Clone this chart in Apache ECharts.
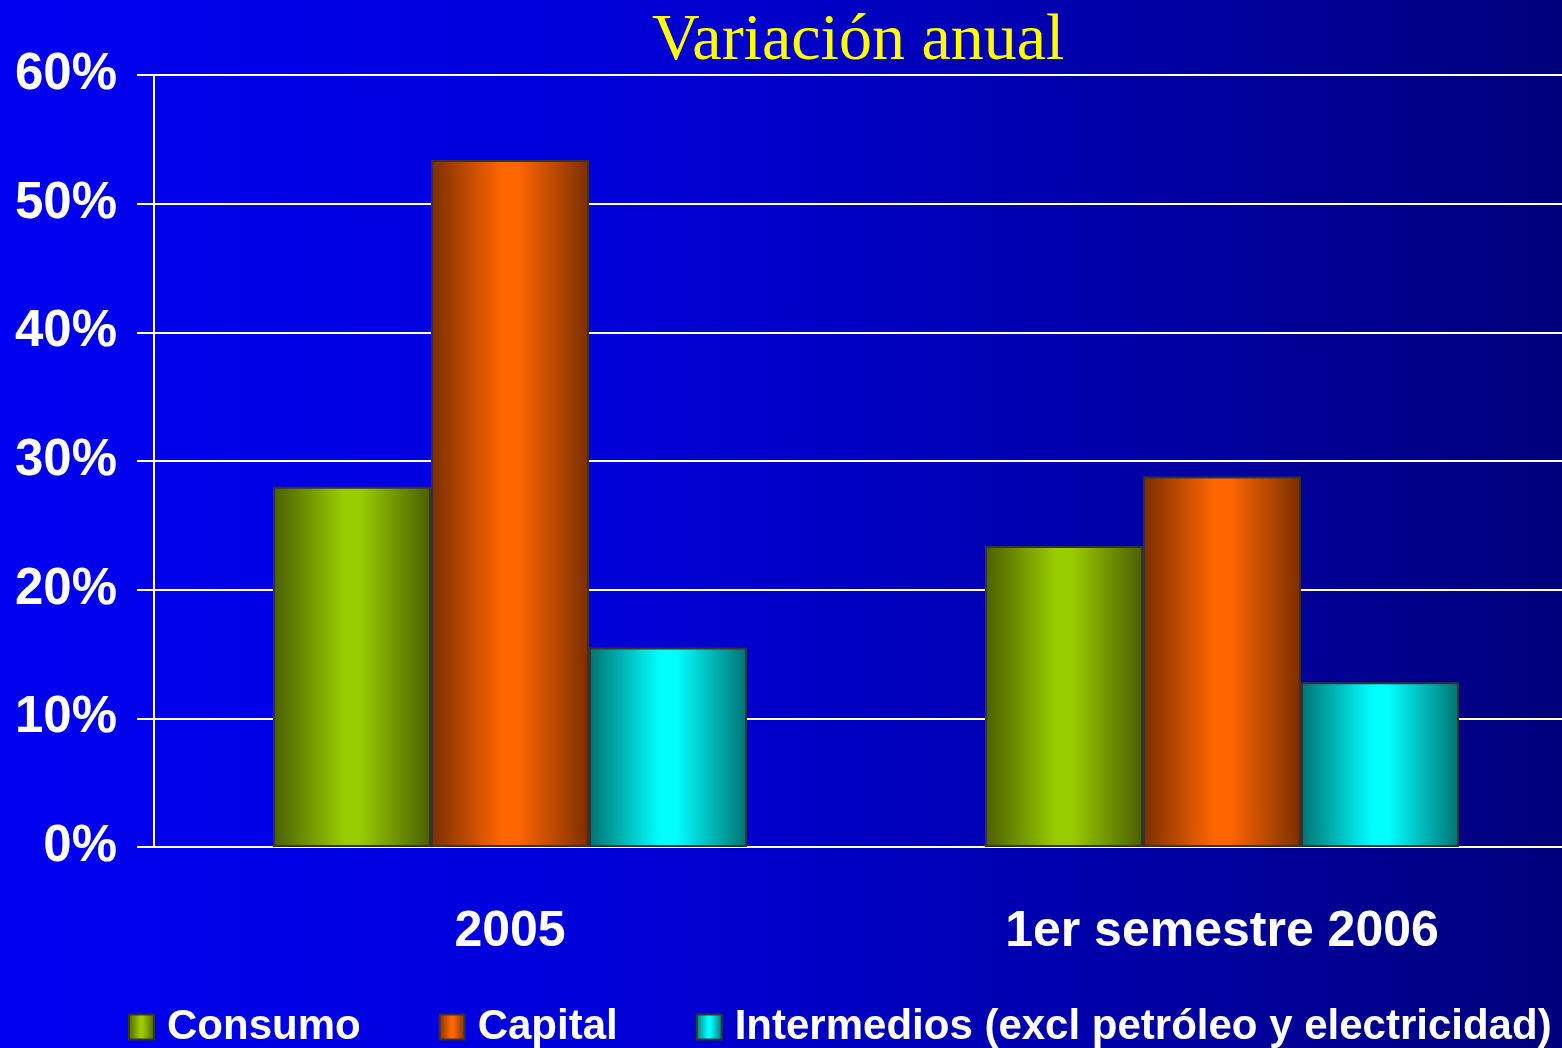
<!DOCTYPE html>
<html>
<head>
<meta charset="utf-8">
<script src="https://cdn.jsdelivr.net/npm/echarts@6/dist/echarts.min.js"></script>
<style>
  html, body { margin: 0; padding: 0; overflow: hidden; }
  body {
    width: 1562px;
    height: 1048px;
    background: linear-gradient(to right, #0000f2 0%, #0000d8 40%, #00007c 100%);
  }
  /* plot area runs a little past the right edge, as in the original slide */
  #chart { width: 1578px; height: 1048px; }
</style>
</head>
<body>
<div id="chart"></div>
<script>
const categories = ['2005', '1er semestre 2006'];
const consumo = [28.0, 23.4];
const capital = [53.4, 28.8];
const intermedios = [15.5, 12.8];

const chart = echarts.init(document.getElementById('chart'));

// cylinder-like shading: dark edges, bright middle
const shade = (dark, bright) => new echarts.graphic.LinearGradient(0, 0, 1, 0, [
  { offset: 0, color: dark },
  { offset: 0.45, color: bright },
  { offset: 0.55, color: bright },
  { offset: 1, color: dark }
]);

const barStyle = (dark, bright) => ({
  color: shade(dark, bright),
  borderColor: '#333333',
  borderWidth: 2
});

const option = {
  backgroundColor: 'transparent',
  animation: false,
  title: {
    text: 'Variación anual',
    left: 647,
    top: 4,
    textStyle: {
      color: '#ffff00',
      fontFamily: '"Liberation Serif", "Times New Roman", serif',
      fontWeight: 'normal',
      fontSize: 66
    }
  },
  legend: {
    left: 128,
    top: 1006,
    width: 1480,
    padding: 0,
    icon: 'rect',
    itemWidth: 25,
    itemHeight: 25,
    itemGap: 78,
    textStyle: {
      color: '#ffffff',
      fontFamily: 'Arial, "Liberation Sans", sans-serif',
      fontWeight: 'bold',
      fontSize: 42,
      padding: [0, 0, 0, 8]
    },
    data: ['Consumo', 'Capital', 'Intermedios (excl petróleo y electricidad)']
  },
  grid: {
    left: 154,
    top: 75,
    right: 0,
    bottom: 201
  },
  xAxis: {
    type: 'category',
    data: categories,
    axisLine: { lineStyle: { color: '#ffffff', width: 2 } },
    axisTick: { length: 17, lineStyle: { color: '#ffffff', width: 2 } },
    axisLabel: {
      color: '#ffffff',
      fontFamily: 'Arial, "Liberation Sans", sans-serif',
      fontWeight: 'bold',
      fontSize: 50,
      margin: 60
    }
  },
  yAxis: {
    type: 'value',
    min: 0,
    max: 60,
    interval: 10,
    axisLine: { show: true, lineStyle: { color: '#ffffff', width: 2 } },
    axisTick: { show: true, length: 17, lineStyle: { color: '#ffffff', width: 2 } },
    splitLine: { lineStyle: { color: '#ffffff', width: 2 } },
    axisLabel: {
      formatter: '{value}%',
      color: '#ffffff',
      fontFamily: 'Arial, "Liberation Sans", sans-serif',
      fontWeight: 'bold',
      fontSize: 51,
      margin: 37,
      padding: [8, 0, 0, 0]
    }
  },
  series: [
    {
      name: 'Consumo',
      type: 'bar',
      data: consumo,
      barWidth: 158,
      barGap: '0%',
      itemStyle: barStyle('#4a5e00', '#99cc00')
    },
    {
      name: 'Capital',
      type: 'bar',
      data: capital,
      barWidth: 158,
      barGap: '0%',
      itemStyle: barStyle('#7a2e00', '#ff6600')
    },
    {
      name: 'Intermedios (excl petróleo y electricidad)',
      type: 'bar',
      data: intermedios,
      barWidth: 158,
      barGap: '0%',
      itemStyle: barStyle('#007272', '#00ffff')
    }
  ]
};

chart.setOption(option);
</script>
</body>
</html>
